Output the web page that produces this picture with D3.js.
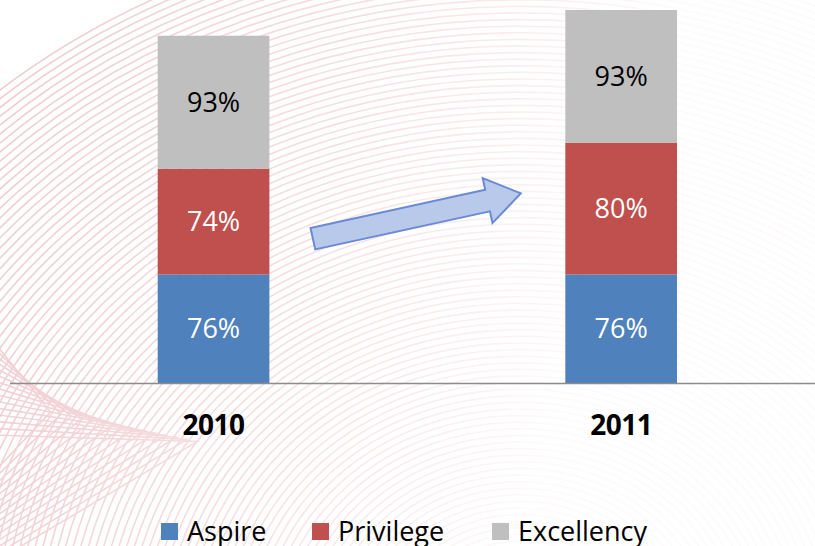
<!DOCTYPE html>
<html>
<head>
<meta charset="utf-8">
<script src="https://cdn.jsdelivr.net/npm/d3@7"></script>
<style>
  body { margin: 0; background: #fff; }
  svg { display: block; font-family: "Open Sans", sans-serif; }
</style>
</head>
<body>
<svg width="815" height="546"></svg>
<script>
// data
var years = ["2010", "2011"];
var series = ["Aspire", "Privilege", "Excellency"];
var colors = ["#4f81bd", "#c0504d", "#bfbfbf"];
// segment heights as drawn (2011 Privilege is drawn taller than its label)
var aspire = [76, 76];
var privilege = [74, 92];
var excellency = [93, 93];
// the labels printed inside the segments
var aspireLabels = ["76%", "76%"];
var privilegeLabels = ["74%", "80%"];
var excellencyLabels = ["93%", "93%"];

var width = 815, height = 546;
var svg = d3.select("svg");

// faint fingerprint texture in the background
var defs = svg.append("defs");
var grad = defs.append("linearGradient").attr("id", "fade")
  .attr("x1", 0).attr("y1", 0).attr("x2", 1).attr("y2", 0.2);
grad.append("stop").attr("offset", "0%").attr("stop-color", "#fff").attr("stop-opacity", 1);
grad.append("stop").attr("offset", "45%").attr("stop-color", "#fff").attr("stop-opacity", 0.6);
grad.append("stop").attr("offset", "80%").attr("stop-color", "#fff").attr("stop-opacity", 0.1);
defs.append("mask").attr("id", "fpmask")
  .append("rect").attr("width", width).attr("height", height).attr("fill", "url(#fade)");

var fp = svg.append("g").attr("mask", "url(#fpmask)")
  .attr("fill", "none").attr("stroke", "#eab8be").attr("stroke-width", 1.6).attr("opacity", 0.75);
fp.selectAll("ellipse.a").data(d3.range(10, 110)).enter().append("ellipse")
  .attr("class", "a")
  .attr("cx", 520).attr("cy", 640)
  .attr("rx", function(d) { return d * 7.4; })
  .attr("ry", function(d) { return d * 6.6; });
fp.selectAll("path.b").data(d3.range(1, 16)).enter().append("path")
  .attr("class", "b")
  .attr("d", function(d) {
    var o = d * 7;
    return "M" + (-10) + "," + (330 + o) + " L" + (40 + o * 1.5) + "," + (410 + o * 0.3) +
      " L" + (-10) + "," + (470 + o * 0.9);
  });

var x = d3.scaleBand().domain(years).range([157.7, 677]).paddingInner(0.726).paddingOuter(0);
var y = d3.scaleLinear().domain([0, 268]).range([383, 0]);

var rows = years.map(function(yr, i) {
  return { year: yr, Aspire: aspire[i], Privilege: privilege[i], Excellency: excellency[i] };
});
var labels = { Aspire: aspireLabels, Privilege: privilegeLabels, Excellency: excellencyLabels };
var textColor = { Aspire: "#fff", Privilege: "#fff", Excellency: "#000" };

var stack = d3.stack().keys(series)(rows);

var layers = svg.selectAll(".layer").data(stack).enter().append("g")
  .attr("class", "layer")
  .attr("fill", function(d, i) { return colors[i]; });

layers.selectAll("rect").data(function(d) { return d; }).enter().append("rect")
  .attr("x", function(d) { return x(d.data.year); })
  .attr("width", x.bandwidth())
  .attr("y", function(d) { return y(d[1]); })
  .attr("height", function(d) { return y(d[0]) - y(d[1]); });

layers.each(function(s) {
  d3.select(this).selectAll("text").data(s).enter().append("text")
    .attr("x", function(d) { return x(d.data.year) + x.bandwidth() / 2; })
    .attr("y", function(d) { return (y(d[0]) + y(d[1])) / 2; })
    .attr("dy", "0.36em")
    .attr("text-anchor", "middle")
    .attr("font-size", 27)
    .attr("fill", textColor[s.key])
    .text(function(d, i) { return labels[s.key][i]; });
});

// baseline + year labels
svg.append("line")
  .attr("x1", 10).attr("x2", width)
  .attr("y1", y(0) + 0.5).attr("y2", y(0) + 0.5)
  .attr("stroke", "#8c8c8c").attr("stroke-width", 1.5);

svg.selectAll(".year").data(years).enter().append("text")
  .attr("class", "year")
  .attr("x", function(d) { return x(d) + x.bandwidth() / 2; })
  .attr("y", 435)
  .attr("text-anchor", "middle")
  .attr("font-size", 28)
  .attr("font-weight", "bold")
  .attr("letter-spacing", -0.5)
  .text(function(d) { return d; });

// block arrow between the bars
var tail = [x("2010") + x.bandwidth() + 43.5, y(101)];
var tip = [x("2011") - 44.5, y(132.7)];
var len = Math.hypot(tip[0] - tail[0], tip[1] - tail[1]);
var ang = Math.atan2(tip[1] - tail[1], tip[0] - tail[0]) * 180 / Math.PI;
var sw = 11, hw = 23, hl = 34;
svg.append("path")
  .attr("transform", "translate(" + tail + ") rotate(" + ang + ")")
  .attr("d", d3.line()([[0, -sw], [len - hl, -sw], [len - hl, -hw], [len, 0], [len - hl, hw], [len - hl, sw], [0, sw]]) + "Z")
  .attr("fill", "#b9c9ea")
  .attr("stroke", "#6a8ad6")
  .attr("stroke-width", 2)
  .attr("stroke-linejoin", "miter");

// legend
var legendX = [161, 312, 492];
var legend = svg.selectAll(".legend").data(series).enter().append("g")
  .attr("class", "legend")
  .attr("transform", function(d, i) { return "translate(" + legendX[i] + ",523)"; });
legend.append("rect").attr("width", 17).attr("height", 17)
  .attr("fill", function(d, i) { return colors[i]; });
legend.append("text")
  .attr("x", 26).attr("y", 18)
  .attr("font-size", 27)
  .attr("fill", "#000")
  .text(function(d) { return d; });
</script>
</body>
</html>
